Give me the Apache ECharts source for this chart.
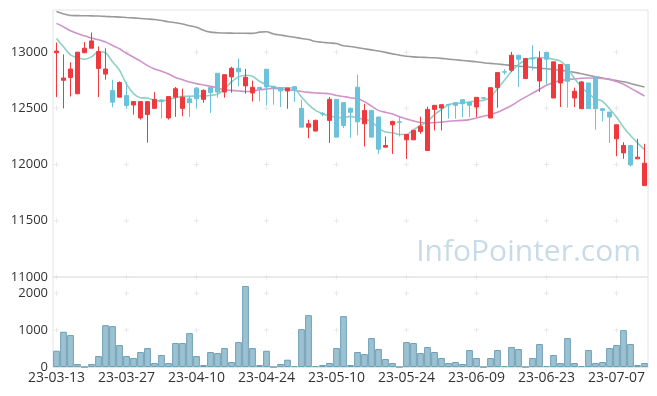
<!DOCTYPE html>
<html>
<head>
<meta charset="utf-8">
<script src="https://cdn.jsdelivr.net/npm/echarts@6/dist/echarts.min.js"></script>
<style>
html,body{margin:0;padding:0;background:#fff;}
#chart{width:657px;height:396px;}
</style>
</head>
<body>
<div id="chart"></div>
<script>
var dates = ['23-03-13','23-03-14','23-03-15','23-03-16','23-03-17','23-03-20','23-03-21','23-03-22','23-03-23','23-03-24',
'23-03-27','23-03-28','23-03-29','23-03-30','23-03-31','23-04-03','23-04-04','23-04-05','23-04-06','23-04-07',
'23-04-10','23-04-11','23-04-12','23-04-13','23-04-14','23-04-17','23-04-18','23-04-19','23-04-20','23-04-21',
'23-04-24','23-04-25','23-04-26','23-04-27','23-04-28','23-05-02','23-05-03','23-05-04','23-05-08','23-05-09',
'23-05-10','23-05-11','23-05-12','23-05-15','23-05-16','23-05-17','23-05-18','23-05-19','23-05-22','23-05-23',
'23-05-24','23-05-25','23-05-26','23-05-30','23-05-31','23-06-01','23-06-02','23-06-05','23-06-07','23-06-08',
'23-06-09','23-06-12','23-06-13','23-06-14','23-06-15','23-06-16','23-06-19','23-06-20','23-06-21','23-06-22',
'23-06-23','23-06-26','23-06-27','23-06-28','23-06-29','23-06-30','23-07-03','23-07-04','23-07-05','23-07-06',
'23-07-07','23-07-10','23-07-11','23-07-12','23-07-13'];

var openP = [12995,12750,12775,12630,12995,13035,12855,12805,12660,12600,
12615,12530,12415,12445,12500,12575,12415,12600,12500,12585,
12680,12580,12685,12812,12645,12780,12857,12700,12637,12687,
12848,12696,12684,12655,12693,12500,12333,12298,12455,12393,
12580,12551,12500,12688,12363,12482,12423,12155,12354,12380,
12220,12220,12295,12125,12491,12503,12535,12551,12577,12554,
12512,12595,12414,12684,12826,12839,12973,12765,12945,12744,
12997,12592,12726,12890,12592,12497,12726,12780,12497,12467,
12229,12104,12170,12051,11813];
var closeP = [13010,12770,12850,13000,13035,13100,13005,12850,12555,12730,
12525,12560,12560,12560,12580,12560,12605,12675,12600,12550,
12585,12660,12640,12645,12800,12857,12825,12777,12687,12673,
12690,12681,12655,12681,12667,12333,12363,12393,12450,12580,
12244,12348,12465,12380,12482,12244,12137,12170,12384,12375,
12268,12304,12342,12491,12527,12533,12530,12527,12542,12527,
12598,12590,12684,12818,12822,12973,12937,12943,12940,12943,
12937,12914,12890,12741,12652,12735,12497,12497,12482,12423,
12354,12170,11997,12066,12012];
var lowP = [12600,12500,12605,12630,12995,13035,12600,12755,12510,12600,
12500,12445,12400,12195,12495,12410,12400,12425,12430,12425,
12505,12550,12460,12595,12595,12640,12695,12630,12562,12562,
12527,12533,12512,12497,12557,12333,12235,12295,12431,12193,
12244,12324,12238,12260,12161,12244,12095,12155,12095,12250,
12050,12220,12274,12125,12304,12304,12408,12408,12423,12423,
12423,12580,12414,12506,12800,12824,12690,12765,12839,12646,
12714,12592,12512,12506,12512,12497,12497,12310,12384,12193,
12075,12051,11982,12051,11813];
var highP = [13085,12980,12910,13000,13090,13175,13050,13035,12755,12740,
12735,12560,12560,12560,12645,12580,12610,12690,12675,12615,
12690,12670,12690,12812,12800,12870,12943,12850,12747,12690,
12848,12700,12684,12681,12693,12577,12399,12400,12467,12601,
12580,12551,12510,12800,12542,12482,12423,12250,12390,12423,
12270,12304,12426,12515,12530,12535,12540,12551,12577,12560,
12598,12600,12684,12818,12848,13003,12973,12943,13062,13009,
12997,12914,12890,12890,12684,12744,12726,12780,12497,12467,
12354,12199,12170,12229,12185];

var volume = [441,955,865,81,0,81,297,1135,1108,595,
297,243,405,514,108,324,108,649,649,919,
297,54,405,378,514,135,676,2198,514,54,
441,0,81,198,27,1027,1406,27,54,108,
514,1379,54,405,351,784,487,216,108,0,
676,649,378,541,405,243,108,135,81,460,
243,0,243,460,27,541,487,0,243,622,
27,324,108,784,108,27,460,108,135,514,
595,1000,622,54,108];

var ma5 = [13122,13048,12975,12950,12937,12958,13003,12995,12914,12839,
12715,12631,12595,12592,12571,12565,12580,12595,12607,12607,
12610,12610,12616,12625,12676,12735,12780,12795,12786,12741,
12711,12690,12684,12684,12676,12601,12533,12482,12452,12432,
12420,12418,12429,12414,12402,12384,12325,12289,12283,12268,
12268,12310,12348,12384,12444,12491,12533,12542,12548,12557,
12566,12571,12601,12676,12750,12830,12890,12929,12949,12952,
12949,12937,12920,12860,12765,12690,12631,12586,12563,12497,
12423,12333,12259,12193,12134];
var ma20 = [13256,13225,13190,13165,13145,13125,13110,13090,13060,13030,
12990,12955,12920,12880,12850,12830,12805,12775,12755,12735,
12720,12708,12696,12683,12665,12660,12655,12650,12655,12665,
12672,12678,12672,12665,12660,12650,12642,12637,12634,12630,
12615,12605,12595,12585,12560,12520,12482,12465,12450,12425,
12405,12388,12375,12372,12372,12378,12385,12390,12393,12400,
12415,12430,12445,12465,12495,12525,12565,12600,12635,12670,
12705,12730,12748,12756,12762,12768,12770,12770,12765,12758,
12738,12715,12680,12645,12610];
var ma60 = [13362,13340,13326,13325,13324,13323,13321,13318,13315,13312,
13308,13305,13300,13295,13290,13282,13270,13262,13250,13235,
13222,13195,13178,13173,13170,13169,13168,13168,13167,13178,
13182,13162,13152,13142,13132,13122,13112,13095,13088,13082,
13077,13057,13050,13040,13030,13020,13010,12998,12985,12972,
12963,12958,12955,12953,12950,12945,12938,12932,12926,12920,
12914,12906,12900,12894,12888,12882,12876,12870,12865,12858,
12852,12846,12838,12830,12820,12808,12795,12782,12770,12758,
12748,12736,12722,12705,12690];

var priceTicks = [11000,11500,12000,12500,13000];
var volumeTicks = [1000,2000];

var candleData = dates.map(function(d,i){return [openP[i],closeP[i],lowP[i],highP[i]];});
var crossIdx = [];
for (var k=0;k<dates.length;k+=10) crossIdx.push(k);
var crossPrice = [];
crossIdx.forEach(function(c){priceTicks.forEach(function(v){crossPrice.push([c,v]);});});
var crossVol = [];
crossIdx.forEach(function(c){volumeTicks.forEach(function(v){crossVol.push([c,v]);});});

var FONT = '"Open Sans", "Noto Sans", sans-serif';
var crossSym = 'path://M2,0L3,0L3,2L5,2L5,3L3,3L3,5L2,5L2,3L0,3L0,2L2,2Z';

var chart = echarts.init(document.getElementById('chart'), null, {renderer:'canvas'});
chart.setOption({
  animation:false,
  backgroundColor:'#fff',
  grid:[
    {left:53,right:9,top:10,height:267,show:true,borderColor:'#e4e4e4',borderWidth:1},
    {left:53,right:9,top:277,height:90,show:true,borderColor:'#e4e4e4',borderWidth:1}
  ],
  xAxis:[
    {type:'category',gridIndex:0,data:dates,boundaryGap:true,
     axisLine:{show:false},axisTick:{show:false},axisLabel:{show:false},splitLine:{show:false}},
    {type:'category',gridIndex:1,data:dates,boundaryGap:true,
     axisLine:{show:true,lineStyle:{color:'#e4e4e4'}},axisTick:{show:false},
     axisLabel:{interval:9,color:'#333',fontSize:14,fontFamily:FONT,margin:4},splitLine:{show:false}}
  ],
  yAxis:[
    {type:'value',gridIndex:0,min:11000,max:13375,interval:500,
     axisLine:{show:false},axisTick:{show:false},splitLine:{show:false},
     axisLabel:{color:'#333',fontSize:13,fontFamily:FONT,margin:5,showMaxLabel:false,
       formatter:function(v){return v%500===0?String(v):'';}}},
    {type:'value',gridIndex:1,min:0,max:2440,interval:1000,
     axisLine:{show:false},axisTick:{show:false},splitLine:{show:false},
     axisLabel:{color:'#333',fontSize:13,fontFamily:FONT,margin:5,showMaxLabel:false,
       formatter:function(v){return v%1000===0?String(v):'';}}}
  ],
  graphic:[{type:'text',z:0,silent:true,
    style:{text:'InfoPointer.com',x:641,y:267,align:'right',verticalAlign:'bottom',
      font:'30px "Open Sans", sans-serif',fill:'#c8dbe6'}}],
  series:[
    {type:'scatter',xAxisIndex:0,yAxisIndex:0,data:crossPrice,symbol:crossSym,symbolSize:5,
     itemStyle:{color:'#e2e2e2'},silent:true,z:1},
    {type:'scatter',xAxisIndex:1,yAxisIndex:1,data:crossVol,symbol:crossSym,symbolSize:5,
     itemStyle:{color:'#e2e2e2'},silent:true,z:1},
    {type:'line',name:'MA60',xAxisIndex:0,yAxisIndex:0,data:ma60,showSymbol:false,smooth:0.3,
     lineStyle:{color:'#9a9a9a',width:1.6},z:3},
    {type:'line',name:'MA20',xAxisIndex:0,yAxisIndex:0,data:ma20,showSymbol:false,smooth:0.3,
     lineStyle:{color:'#cf93cb',width:1.6},z:3},
    {type:'line',name:'MA5',xAxisIndex:0,yAxisIndex:0,data:ma5,showSymbol:false,smooth:0.3,
     lineStyle:{color:'#8fd0c6',width:1.6},z:3},
    {type:'candlestick',xAxisIndex:0,yAxisIndex:0,data:candleData,barWidth:5,
     itemStyle:{color:'#ee3a3e',color0:'#6cc2da',borderColor:'#ee3a3e',borderColor0:'#6cc2da',borderWidth:1},z:4},
    {type:'bar',xAxisIndex:1,yAxisIndex:1,data:volume,barWidth:'96%',
     itemStyle:{color:'#9cc2d2',borderColor:'#6e9fb6',borderWidth:1},z:2}
  ]
});
</script>
</body>
</html>
